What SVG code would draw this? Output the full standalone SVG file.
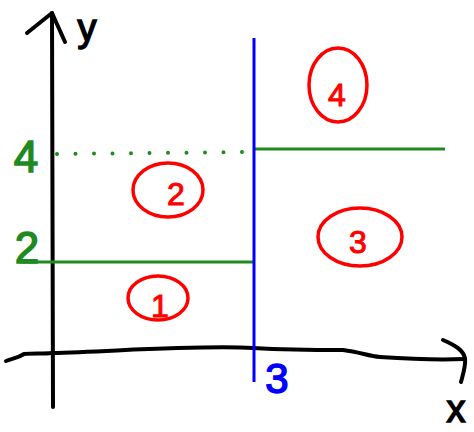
<svg xmlns="http://www.w3.org/2000/svg" width="474" height="432" viewBox="0 0 474 432">
<style>
.ax{fill:none;stroke:#000;stroke-width:4;stroke-linecap:round;stroke-linejoin:round}
.gr{fill:none;stroke:#1f8a1f;stroke-width:3}
.dot{fill:none;stroke:#1f8a1f;stroke-width:4;stroke-linecap:round;stroke-dasharray:0 18.5}
.bl{fill:none;stroke:#0000ff;stroke-width:3}
.rc{fill:none;stroke:#ff0000;stroke-width:3.5;stroke-linecap:round}
.rt{fill:#ff0000;stroke:#ff0000;stroke-width:1;font-family:"Liberation Sans",sans-serif;font-size:32px;text-anchor:middle}
.gt{fill:#1f8a1f;stroke:#1f8a1f;stroke-width:1.5;font-family:"Liberation Sans",sans-serif;font-size:44px;text-anchor:middle}
.kt{fill:#000;stroke:#000;stroke-width:1.5;font-family:"Liberation Sans",sans-serif;font-size:38px;text-anchor:middle}
.bt{fill:#0000ff;stroke:#0000ff;stroke-width:1.5;font-family:"Liberation Sans",sans-serif;font-size:42px;text-anchor:middle}
</style>
<rect width="474" height="432" fill="#fff"/>
<g id="axes">
<path class="ax" d="M52,13 L53,407"/>
<path class="ax" d="M27,33 L52,13 L65,42"/>
<path class="ax" d="M6,361 C14,358 18,358 24,354 C34,353 42,354 52,353 C120,351 200,345 253,348 C290,350 320,350 343,350 C360,352 368,356 380,357 C410,359 440,360 464,359"/>
<path class="ax" d="M443,340 C455,345 463,350 465,358 C466,366 463,374 461,382"/>
</g>
<g id="labels-axes">
<text class="kt" x="87" y="41">y</text>
<text class="kt" x="456" y="422" font-size="36">x</text>
<text class="gt" x="26" y="172">4</text>
<text class="gt" x="27" y="263" font-size="40">2</text>
<text class="bt" x="277" y="393">3</text>
</g>
<g id="lines">
<path class="dot" d="M57,154 L250,152"/>
<path class="gr" d="M253,149 L445,149"/>
<path class="gr" d="M20,262 L254,262"/>
<path class="bl" d="M254,38 L254,382"/>
</g>
<g id="region-1">
<ellipse class="rc" cx="158" cy="298" rx="30" ry="22"/>
<text class="rt" x="160" y="317">1</text>
</g>
<g id="region-2">
<ellipse class="rc" cx="168" cy="190" rx="35" ry="27"/>
<text class="rt" x="176" y="205">2</text>
</g>
<g id="region-3">
<ellipse class="rc" cx="360" cy="237" rx="42" ry="29"/>
<text class="rt" x="358" y="253">3</text>
</g>
<g id="region-4">
<ellipse class="rc" cx="338" cy="85" rx="29" ry="37"/>
<text class="rt" x="337" y="106" font-size="48">4</text>
</g>
</svg>
